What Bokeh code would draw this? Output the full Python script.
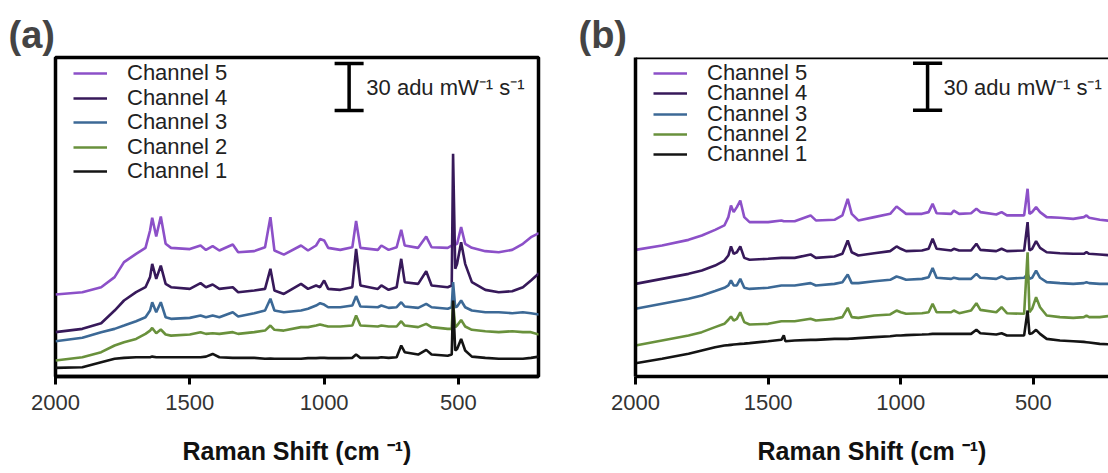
from bokeh.plotting import figure
from bokeh.layouts import row
from bokeh.models import Range1d, FixedTicker, Legend, LegendItem, Span, ColumnDataSource
from bokeh.core.properties import value
from bokeh.embed import file_html
from bokeh.resources import INLINE

# ---------------- data ----------------
CHANNELS = ["Channel 1", "Channel 2", "Channel 3", "Channel 4", "Channel 5"]
COLORS = ["#141414", "#69913c", "#3c6996", "#37195a", "#8c50c8"]
X_TICKS = [2000, 1500, 1000, 500]
PANEL_TAGS = ["(a)", "(b)"]
AXIS_TITLE = "Raman Shift (cm \u207b\u00b9)"
SCALE_LABEL = "30 adu mW\u207b\u00b9 s\u207b\u00b9"
SCALE_SIZE = 30  # adu

# panel (a): Raman shift (cm-1) and offset intensities (adu)
A_SHIFT = [2000, 1900, 1830, 1780, 1745, 1700, 1665, 1648, 1640, 1625, 1608, 1590, 1570, 1500,
           1460, 1440, 1415, 1390, 1340, 1320, 1260, 1220, 1200, 1185, 1150, 1086, 1060, 1030,
           1015, 1000, 985, 940, 895, 881, 865, 800, 787, 760, 730, 713, 700, 650, 620, 600,
           540, 525, 520, 512, 505, 490, 475, 450, 400, 350, 300, 260, 230, 200]
A_CH5 = [53.6, 55.1, 58.3, 64.7, 74.3, 79.6, 83.4, 94.5, 102.6, 90.6, 103.4, 86.0, 83.4, 82.6,
         84.9, 82.1, 84.5, 81.7, 85.5, 80.6, 81.3, 83.8, 103.0, 81.7, 79.1, 84.9, 81.7, 84.9,
         89.1, 88.1, 83.4, 82.1, 83.8, 100.5, 83.4, 82.1, 84.9, 82.1, 83.8, 94.9, 84.9, 83.4,
         90.6, 83.8, 83.4, 84.9, 86.0, 85.5, 86.0, 96.6, 86.0, 83.4, 81.3, 80.6, 82.1, 86.0,
         90.2, 92.8]
A_CH4 = [29.6, 31.7, 35.3, 43.4, 49.8, 55.1, 58.3, 64.7, 73.2, 63.6, 72.1, 60.4, 58.3, 57.2,
         60.9, 58.3, 60.0, 57.2, 58.3, 55.1, 56.2, 57.2, 70.0, 56.2, 54.0, 60.4, 57.2, 59.4,
         58.3, 62.6, 57.2, 56.6, 58.3, 82.8, 59.4, 57.2, 59.4, 56.6, 58.3, 76.4, 61.5, 60.4,
         68.5, 59.4, 58.3, 59.4, 143.4, 70.0, 73.2, 87.0, 73.2, 61.5, 56.6, 55.1, 55.7, 58.3,
         62.6, 67.2]
A_CH3 = [23.8, 26.0, 29.6, 31.7, 33.8, 36.6, 39.1, 43.4, 48.7, 42.3, 48.7, 39.1, 38.1, 38.7,
         40.2, 39.1, 40.2, 39.1, 42.3, 39.6, 41.7, 43.4, 50.9, 43.4, 42.3, 43.4, 44.5, 46.6,
         48.1, 47.2, 45.5, 45.5, 46.6, 52.6, 46.0, 45.5, 46.6, 45.1, 45.5, 48.7, 46.0, 45.1,
         47.7, 45.5, 44.5, 45.5, 61.5, 45.5, 46.0, 49.8, 45.5, 43.4, 42.3, 42.3, 41.7, 42.3,
         41.7, 40.9]
A_CH2 = [11.5, 13.6, 16.8, 21.1, 23.2, 25.3, 28.5, 30.6, 32.3, 28.9, 31.3, 28.1, 27.4, 28.1,
         29.6, 28.5, 28.9, 28.5, 29.6, 28.5, 29.6, 30.6, 33.8, 31.1, 30.6, 32.8, 32.8, 33.8,
         34.5, 33.8, 33.2, 33.2, 33.8, 40.2, 33.8, 33.2, 33.8, 33.2, 33.2, 36.6, 33.8, 32.8,
         34.9, 32.8, 31.7, 31.7, 48.7, 32.8, 33.8, 37.4, 33.2, 31.1, 30.2, 29.6, 30.2, 29.6,
         29.6, 28.1]
A_CH1 = [6.8, 7.2, 10.4, 12.6, 13.2, 13.6, 13.6, 13.6, 14.0, 13.6, 13.6, 13.6, 13.6, 13.6,
         13.6, 14.0, 15.7, 13.6, 13.2, 13.2, 13.2, 12.6, 12.8, 12.6, 12.6, 12.6, 13.0, 13.0,
         13.2, 13.2, 13.0, 13.0, 13.2, 15.3, 13.2, 13.2, 13.6, 13.2, 13.6, 21.1, 16.8, 15.3,
         18.3, 15.3, 14.5, 15.3, 49.8, 17.9, 18.9, 25.3, 17.9, 14.0, 13.2, 12.6, 12.6, 12.6,
         13.2, 14.0]

# panel (b)
B_SHIFT = [2000, 1900, 1800, 1750, 1700, 1665, 1650, 1640, 1630, 1618, 1605, 1590, 1570, 1500,
           1450, 1441, 1435, 1400, 1340, 1320, 1250, 1220, 1200, 1185, 1160, 1100, 1040, 1016,
           1000, 980, 920, 895, 880, 865, 810, 800, 780, 735, 715, 700, 640, 620, 600, 535,
           522, 515, 505, 490, 475, 450, 400, 350, 310, 300, 290, 250, 200]
B_CH5 = [78.9, 81.7, 85.3, 88.1, 91.7, 94.5, 99.8, 107.2, 103.0, 106.2, 110.4, 99.8, 96.6, 96.6,
         97.7, 97.2, 97.2, 97.2, 100.9, 97.7, 98.1, 100.9, 111.5, 101.9, 97.7, 99.8, 101.9, 106.6,
         104.5, 101.9, 101.9, 103.0, 108.3, 102.3, 101.9, 104.0, 101.9, 102.3, 105.1, 103.0,
         101.5, 103.0, 100.9, 100.9, 117.9, 101.9, 103.0, 106.2, 103.0, 99.8, 99.4, 98.7, 99.8,
         100.9, 99.4, 98.1, 97.2]
B_CH4 = [57.2, 60.4, 63.6, 65.7, 68.9, 72.1, 75.3, 81.1, 76.4, 77.4, 81.1, 73.8, 72.6, 73.2,
         73.8, 73.8, 73.8, 73.8, 76.0, 73.8, 74.7, 76.4, 84.9, 77.4, 75.3, 76.8, 78.1, 81.1,
         79.6, 78.1, 78.5, 79.6, 86.0, 79.6, 78.5, 79.6, 78.5, 78.5, 82.8, 78.9, 78.1, 79.6,
         78.1, 78.5, 96.6, 78.5, 79.6, 84.5, 80.2, 77.4, 76.8, 76.4, 76.4, 77.4, 76.4, 76.0, 75.3]
B_CH3 = [41.3, 44.5, 47.7, 49.8, 52.6, 54.7, 56.2, 59.4, 56.2, 56.2, 60.4, 54.7, 54.0, 54.7,
         56.2, 56.2, 56.2, 56.2, 57.7, 56.2, 57.2, 58.3, 63.2, 57.7, 57.7, 58.9, 59.8, 61.9,
         61.1, 59.8, 60.4, 61.5, 67.4, 61.1, 60.4, 61.1, 60.4, 60.4, 63.6, 61.1, 60.4, 61.9,
         60.4, 61.1, 63.6, 60.4, 61.1, 65.7, 61.1, 58.3, 57.7, 57.2, 57.7, 58.3, 57.7, 57.2, 57.2]
B_CH2 = [17.9, 21.1, 24.3, 26.4, 29.6, 31.7, 34.3, 36.4, 33.8, 34.9, 39.1, 32.8, 31.3, 31.7,
         33.4, 33.4, 33.4, 33.4, 34.9, 33.8, 34.9, 36.0, 41.9, 36.0, 35.5, 37.0, 37.7, 40.2,
         39.1, 38.1, 38.5, 39.1, 44.5, 39.1, 39.1, 40.2, 38.5, 40.2, 44.9, 40.6, 39.1, 42.3,
         38.5, 38.1, 77.4, 39.1, 41.3, 48.7, 42.3, 37.0, 36.0, 35.5, 36.0, 37.0, 36.0, 36.0, 37.0]
B_CH1 = [6.6, 9.4, 12.6, 14.7, 16.8, 17.9, 18.1, 18.3, 18.5, 18.7, 18.9, 19.1, 19.4, 20.6,
         21.5, 24.3, 20.6, 21.1, 21.5, 21.5, 22.1, 22.1, 22.1, 22.3, 22.6, 23.2, 23.8, 24.3,
         24.3, 24.5, 24.9, 25.1, 25.3, 25.3, 25.3, 25.3, 25.3, 25.3, 27.9, 25.7, 24.9, 25.7,
         24.3, 24.3, 40.2, 25.3, 25.7, 27.9, 25.3, 22.1, 21.1, 20.6, 20.2, 20.0, 19.8, 18.9, 18.5]

FONT = "Liberation Sans"
H = 473
BORDER_TOP = 57
BORDER_BOTTOM = 97
PX_PER_ADU = 1.567


def make_panel(tag, shift, series, x_end, y_start, width, border_lr, bar, legend_rows,
               boxed, title_offset):
    bl, br = border_lr
    frame_h = H - BORDER_TOP - BORDER_BOTTOM
    y_end = y_start + frame_h / PX_PER_ADU
    p = figure(width=width, height=H, x_range=Range1d(2000, x_end),
               y_range=Range1d(y_start, y_end), output_backend="svg",
               toolbar_location=None, min_border_left=bl, min_border_right=br,
               min_border_top=BORDER_TOP, min_border_bottom=BORDER_BOTTOM)
    p.grid.visible = False
    p.background_fill_color = "white"
    p.border_fill_color = "white"

    renderers = {}
    for name, color, ys in reversed(list(zip(CHANNELS, COLORS, series))):
        src = ColumnDataSource(dict(shift=shift, intensity=ys))
        renderers[name] = p.line("shift", "intensity", source=src, line_color=color,
                                 line_width=2.6)

    # one legend entry per row so each row sits where the reference puts it
    for name, d in zip(reversed(CHANNELS), legend_rows):
        lg = Legend(items=[LegendItem(label=name, renderers=[renderers[name]])],
                    location=(18, frame_h - d - 15), padding=0, margin=0,
                    glyph_width=34, glyph_height=30, label_height=30, label_standoff=20,
                    label_text_font=FONT, label_text_font_size="22px",
                    label_text_color="#222222", background_fill_alpha=0,
                    border_line_alpha=0)
        p.add_layout(lg)

    # scale bar
    bx, by0, cap, tx, ty = bar
    by1 = by0 + SCALE_SIZE
    p.segment(x0=[bx, bx - cap, bx - cap], y0=[by0, by0, by1],
              x1=[bx, bx + cap, bx + cap], y1=[by1, by0, by1],
              line_color="black", line_width=3.5)
    p.text(x=[tx], y=[ty], text=[SCALE_LABEL], text_font=value(FONT),
           text_font_size="22px", text_baseline="middle", text_align="left",
           text_color="#222222")

    xa = p.xaxis[0]
    xa.ticker = FixedTicker(ticks=X_TICKS)
    xa.axis_label = AXIS_TITLE
    xa.axis_label_text_font = FONT
    xa.axis_label_text_font_size = "25px"
    xa.axis_label_text_font_style = "bold"
    xa.axis_label_text_color = "#111111"
    xa.axis_label_text_line_height = 1.0
    xa.axis_label_standoff = 24
    xa.major_label_text_font = FONT
    xa.major_label_text_font_size = "22px"
    xa.major_label_text_color = "#333333"
    xa.major_label_text_line_height = 1.0
    xa.major_label_standoff = 10
    xa.major_tick_out = 8
    xa.major_tick_in = 0
    xa.major_tick_line_width = 3
    xa.minor_tick_line_color = None
    xa.axis_line_width = 3.5

    if boxed:
        p.yaxis.visible = False
        p.outline_line_color = "black"
        p.outline_line_width = 3.5
        p.outline_line_alpha = 1
    else:
        p.outline_line_color = None
        ya = p.yaxis[0]
        ya.ticker = FixedTicker(ticks=[])
        ya.major_tick_line_color = None
        ya.minor_tick_line_color = None
        ya.axis_line_width = 3.5
        p.add_layout(Span(location=y_end, dimension="width", line_color="black",
                          line_width=3.5))

    p.title.text = tag
    p.title.text_font = FONT
    p.title.text_font_size = "38px"
    p.title.text_font_style = "bold"
    p.title.text_line_height = 1.0
    p.title.align = "left"
    p.title.offset = title_offset
    p.title.standoff = 4
    return p


pa = make_panel(PANEL_TAGS[0], A_SHIFT, [A_CH1, A_CH2, A_CH3, A_CH4, A_CH5],
                x_end=202, y_start=1.3, width=570, border_lr=(55, 32),
                bar=(907, 171, 54, 843, 186), legend_rows=[16, 40.5, 65, 89.5, 114],
                boxed=True, title_offset=-47)
pb = make_panel(PANEL_TAGS[1], B_SHIFT, [B_CH1, B_CH2, B_CH3, B_CH4, B_CH5],
                x_end=217, y_start=-1.9, width=538, border_lr=(65, 0),
                bar=(899, 168, 55, 839, 182.5), legend_rows=[16, 36.3, 56.5, 76.8, 97],
                boxed=False, title_offset=-57)

layout = row(pa, pb)
open("out.html", "w").write(file_html(layout, INLINE))
